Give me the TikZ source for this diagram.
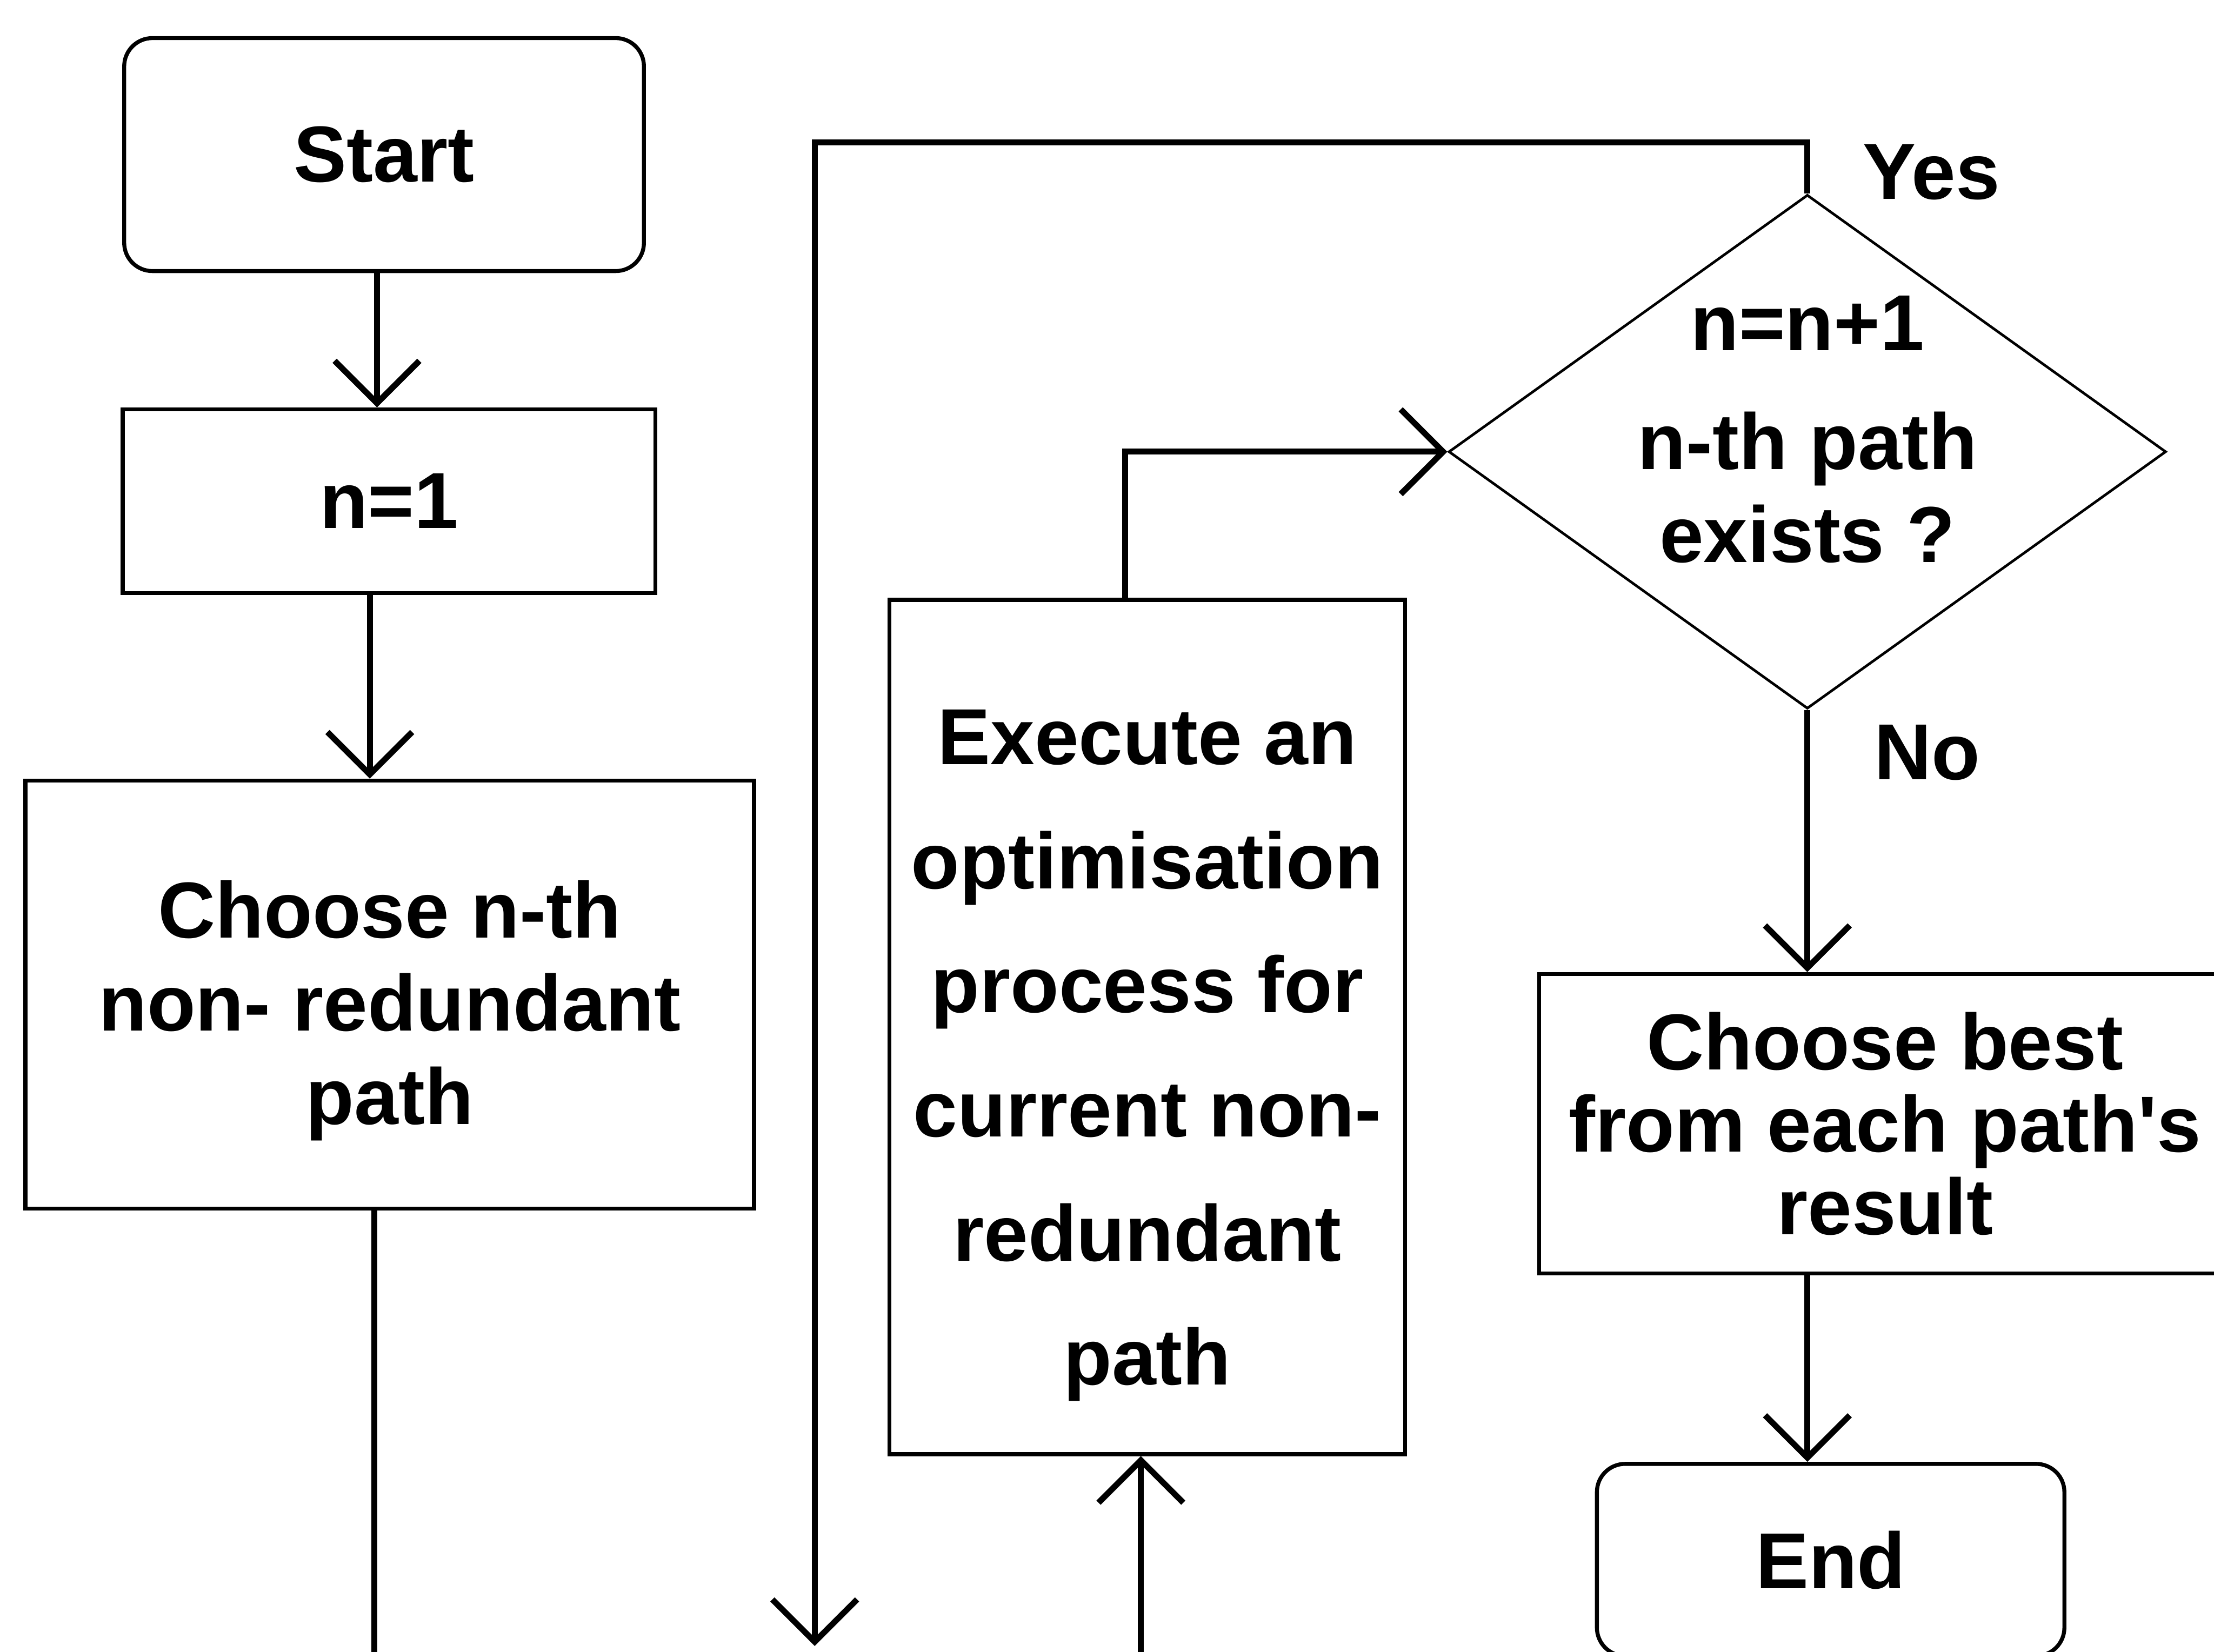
\documentclass[tikz,border=0pt]{standalone}
\usepackage{fontspec}
\setmainfont{Liberation Sans}
\usetikzlibrary{shapes.geometric,arrows.meta}
\newcommand\flowfont[1]{\bfseries\fontsize{40}{#1}\selectfont}

\begin{document}
\begin{tikzpicture}[x=0.025cm,y=-0.025cm,
    box/.style={draw,line width=2pt,align=center,inner sep=2pt},
    term/.style={box,rounded corners=0.5cm},
    decision/.style={draw,diamond,line width=1.3pt,shape aspect=1.4,inner xsep=0pt,inner ysep=-0.5cm,align=center},
    lbl/.style={font=\flowfont{48}},
    arr/.style={line width=3pt,-{Straight Barb[length=0.75cm,width=1.5cm]}}]
  \useasboundingbox (0,0) rectangle (1568,1170);
  \clip (0,0) rectangle (1568,1170);

  \node[term,minimum width=9.2cm,minimum height=4.125cm,font=\flowfont{48}] (start) at (272,109.5) {Start};
  \node[box,minimum width=9.425cm,minimum height=3.25cm,font=\flowfont{48}] (init) at (275.5,355) {n=1};
  \node[box,minimum width=12.9cm,minimum height=7.575cm,font=\flowfont{47}] (choose) at (276,704.5) {\rule{0pt}{1.58cm}Choose n-th\\non- redundant\\path};
  \node[box,minimum width=9.125cm,minimum height=15.125cm,font=\flowfont{62.5}] (optim) at (812.5,727.5) {\rule{0pt}{1.98cm}Execute an\\optimisation\\process for\\current non-\\redundant\\path};
  \node[decision,minimum width=12.7cm,minimum height=9.1cm,font=\flowfont{47}] (exists) at (1280,320) {n=n+1\\[0.45cm]n-th path\\exists ?\rule[-0.8cm]{0pt}{0.8cm}};
  \node[box,minimum width=12.25cm,minimum height=5.3cm,font=\flowfont{41.5}] (best) at (1335,796) {Choose best\\from each path\textquotesingle s\\result};
  \node[term,minimum width=8.275cm,minimum height=3.4cm,font=\flowfont{48}] (finish) at (1296.5,1105) {End};

  \node[lbl] (yes) at (1368,122) {Yes};
  \node[lbl] (no) at (1365,533) {No};

  \coordinate (loopturn) at (577,101);
  \coordinate (loopend) at (577,1166);
  \coordinate (chooseout) at (265,1180);
  \coordinate (optimin) at (808,1180);

  \draw[arr] ([xshift=-0.125cm]start.south) -- ([xshift=-0.125cm]start.south |- init.north);
  \draw[arr] ([xshift=-0.34cm]init.south) -- ([xshift=-0.34cm]init.south |- choose.north);
  \draw[line width=3pt] (chooseout |- choose.south) -- (chooseout);
  \draw[arr] (exists.north) |- (loopturn) -- (loopend);
  \draw[arr] (optimin) -- (optimin |- optim.south);
  \draw[arr] ([xshift=-0.39cm]optim.north) |- (exists.west);
  \draw[arr] (exists.south) -- (exists.south |- best.north);
  \draw[arr] (exists.south |- best.south) -- (exists.south |- finish.north);
\end{tikzpicture}
\end{document}
